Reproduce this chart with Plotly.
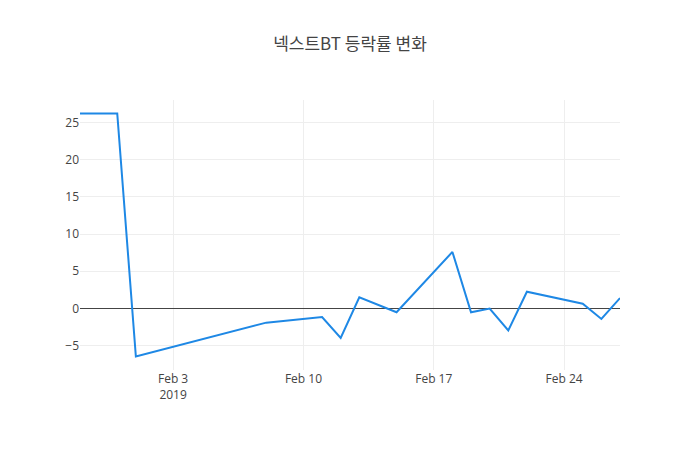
import plotly.graph_objects as go

dates = ["2019-01-29", "2019-01-31", "2019-02-01", "2019-02-08", "2019-02-11",
         "2019-02-12", "2019-02-13", "2019-02-15", "2019-02-18", "2019-02-19",
         "2019-02-20", "2019-02-21", "2019-02-22", "2019-02-25", "2019-02-26",
         "2019-02-27"]
rates = [26.2, 26.2, -6.45, -1.9, -1.15, -3.95, 1.5, -0.5, 7.6, -0.5,
         0.0, -2.95, 2.25, 0.65, -1.4, 1.4]

fig = go.Figure(go.Scatter(x=dates, y=rates, mode="lines",
                           line=dict(color="#1e88e5", width=2)))
fig.update_layout(
    template="none",
    width=700, height=450,
    title=dict(text="넥스트BT 등락률 변화", x=0.5, xanchor="center",
               font=dict(family="Noto Sans CJK KR", size=17, color="#444")),
    font=dict(family="Open Sans, Noto Sans CJK KR", size=12, color="#444"),
    margin=dict(l=80, r=80, t=100, b=80),
    showlegend=False,
    plot_bgcolor="white", paper_bgcolor="white",
)
fig.update_xaxes(showgrid=True, gridcolor="#eee", zeroline=False,
                 showline=False, ticks="")
fig.update_yaxes(showgrid=True, gridcolor="#eee", zeroline=True,
                 zerolinecolor="#444", zerolinewidth=1, showline=False,
                 ticks="", dtick=5)
fig.write_html("out.html", config={"displayModeBar": False},
               post_script="document.body.style.margin='0';")
